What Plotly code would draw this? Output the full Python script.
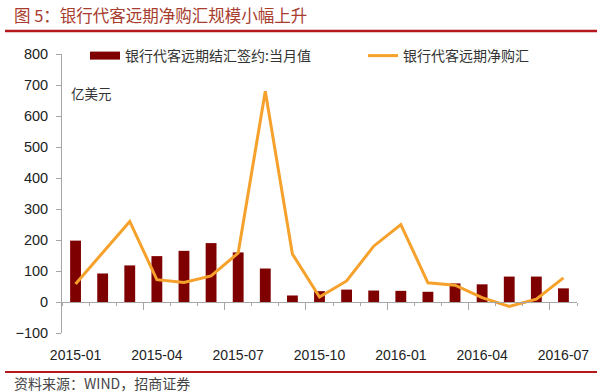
import plotly.graph_objects as go

months = ["2015-01", "2015-02", "2015-03", "2015-04", "2015-05", "2015-06",
          "2015-07", "2015-08", "2015-09", "2015-10", "2015-11", "2015-12",
          "2016-01", "2016-02", "2016-03", "2016-04", "2016-05", "2016-06",
          "2016-07"]
settle_monthly = [198, 92, 118, 148, 165, 190, 160, 108, 21, 35, 40, 37,
                  36, 33, 60, 57, 82, 82, 44]
net_purchase = [58, 158, 260, 72, 63, 84, 158, 680, 155, 16, 68, 180,
                250, 62, 54, 14, -14, 9, 78]
bar_name = "银行代客远期结汇签约:当月值"
line_name = "银行代客远期净购汇"
title_text = "图 5：银行代客远期净购汇规模小幅上升"
source_text = "资料来源：WIND，招商证券"
unit_text = "亿美元"

W, H = 600, 392
# plot-area edges in page pixels
PL, PR, PT, PB = 62, 577, 54, 333


def fx(x):
    return x / W


def fy(y):
    return 1 - y / H


xs = list(range(len(months)))
label_idx = xs[::3]
ymin, ymax = -100, 800
ydom = [fy(PB), fy(PT)]

font_fam = "Arial, Liberation Sans, Noto Sans CJK SC, sans-serif"
cjk_fam = "Noto Sans CJK SC, sans-serif"
axis_col = "#A6A6A6"
bar_col = "#7F0000"
line_col = "#F5A12B"

fig = go.Figure()
fig.add_trace(go.Bar(x=xs, y=settle_monthly, name=bar_name, width=0.4,
                     marker=dict(color=bar_col, line=dict(width=0)),
                     hovertext=months, showlegend=False))
# legend proxy for the bar series (wide flat swatch like the original)
fig.add_trace(go.Scatter(x=[None], y=[None], name=bar_name, mode="lines",
                         line=dict(color=bar_col, width=8)))
fig.add_trace(go.Scatter(x=xs, y=net_purchase, name=line_name, mode="lines",
                         line=dict(color=line_col, width=3),
                         hovertext=months))
# invisible carrier so the label axis at the bottom is drawn
fig.add_trace(go.Scatter(x=xs, y=settle_monthly, xaxis="x2", yaxis="y",
                         mode="markers", marker=dict(opacity=0),
                         showlegend=False, hoverinfo="skip"))

fig.update_layout(
    width=W, height=H,
    margin=dict(l=0, r=0, t=0, b=0, autoexpand=False),
    paper_bgcolor="white", plot_bgcolor="white",
    font=dict(family=font_fam, color="#222222"),
    xaxis=dict(
        domain=[fx(PL), fx(PR)],
        range=[-0.5, len(months) - 0.5],
        anchor="free",
        position=ydom[0] + (0 - ymin) / (ymax - ymin) * (ydom[1] - ydom[0]),
        showline=True, linecolor=axis_col, linewidth=1,
        tickmode="array", tickvals=[i + 2.5 for i in label_idx[:-1]],
        ticks="outside", ticklen=7, tickcolor=axis_col,
        showticklabels=False, showgrid=False, zeroline=False,
        automargin=False,
        minor=dict(tickmode="linear", tick0=-0.5, dtick=1, ticks="outside",
                   ticklen=3, tickcolor=axis_col, showgrid=False),
    ),
    xaxis2=dict(
        domain=[fx(PL), fx(PR)],
        range=[-0.5, len(months) - 0.5],
        overlaying="x", anchor="y", side="bottom",
        tickmode="array", tickvals=label_idx,
        ticktext=[months[i] for i in label_idx],
        ticks="", showline=False, showgrid=False, zeroline=False,
        tickfont=dict(size=14, color="#222222"),
        ticklabelstandoff=12, automargin=False,
    ),
    yaxis=dict(
        domain=ydom,
        range=[ymin, ymax], tickmode="linear", tick0=ymin, dtick=100,
        showline=True, linecolor=axis_col, linewidth=1,
        ticks="outside", ticklen=5, tickcolor=axis_col,
        showgrid=False, zeroline=False,
        tickfont=dict(size=14.5, color="#222222"),
        ticklabelstandoff=5, automargin=False,
    ),
    showlegend=True,
    legend=dict(
        orientation="h", x=fx(85), y=fy(56), xanchor="left", yanchor="middle",
        font=dict(family=cjk_fam, size=14, color="#333333"),
        entrywidth=233, entrywidthmode="pixels",
        bgcolor="rgba(0,0,0,0)", itemwidth=30, traceorder="normal",
    ),
    shapes=[
        dict(type="line", xref="paper", yref="paper",
             x0=fx(5), x1=fx(597), y0=fy(31), y1=fy(31),
             line=dict(color="#B5191E", width=2.5)),
        dict(type="line", xref="paper", yref="paper",
             x0=fx(5), x1=fx(597), y0=fy(372), y1=fy(372),
             line=dict(color="#B5191E", width=2)),
    ],
    annotations=[
        dict(text=title_text, xref="paper", yref="paper", x=fx(12), y=fy(15),
             xanchor="left", yanchor="middle", showarrow=False,
             font=dict(family=cjk_fam, size=16.5, color="#A83C2E")),
        dict(text=source_text, xref="paper", yref="paper", x=fx(12), y=fy(383),
             xanchor="left", yanchor="middle", showarrow=False,
             font=dict(family=cjk_fam, size=14, color="#444444")),
        dict(text=unit_text, xref="paper", yref="paper", x=fx(69), y=fy(93),
             xanchor="left", yanchor="middle", showarrow=False,
             font=dict(family=cjk_fam, size=13.5, color="#333333")),
    ],
)

fig.write_html("out.html",
               config={"displayModeBar": False},
               post_script="document.body.style.margin='0';")
